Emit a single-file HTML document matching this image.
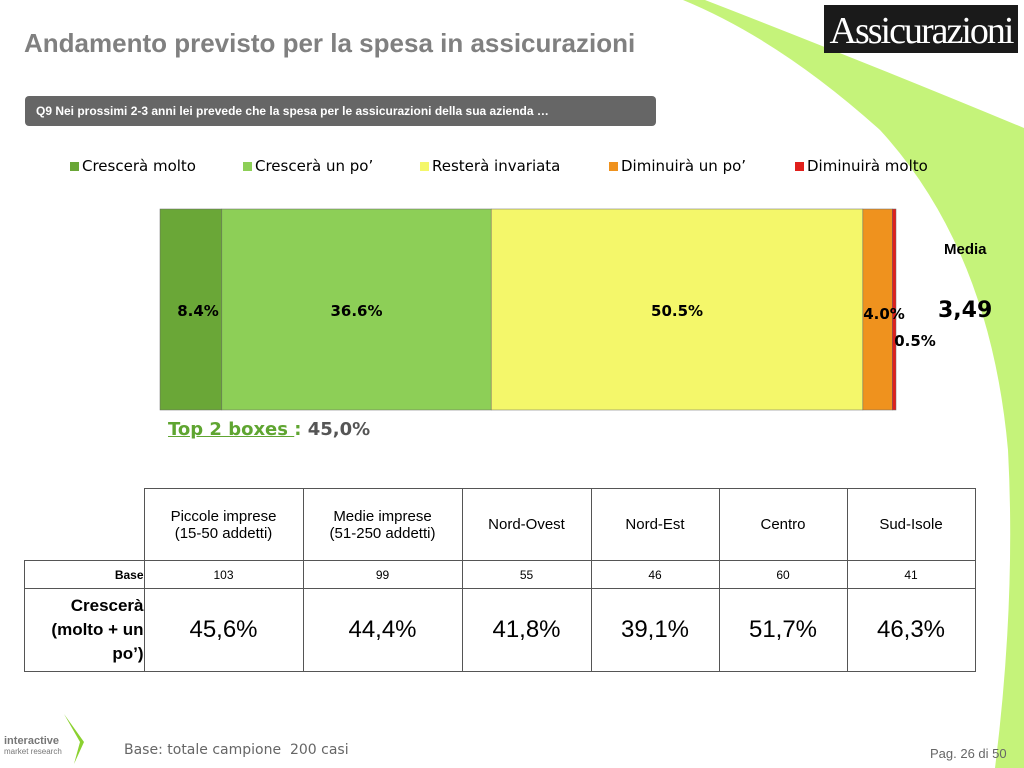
<!DOCTYPE html>
<html><head><meta charset="utf-8"><style>
body{margin:0;width:1024px;height:768px;background:#fff;position:relative;overflow:hidden;font-family:"Liberation Sans",sans-serif}
.a{position:absolute}
td{border:1px solid #555;text-align:center;font-size:15px;padding:0}
table{border-collapse:collapse;position:absolute;left:24px;top:488px}
.lab{position:absolute;font-family:"DejaVu Sans",sans-serif;font-weight:bold;font-size:15px;transform:translateX(-50%)}
</style></head><body>
<svg class="a" style="left:0;top:0" width="1024" height="768">
<path d="M683,0 L705,0 Q860,60 1024,128 L1024,768 L995,768 Q1016,600 1008,450 Q990,250 880,130 Q780,40 683,0 Z" fill="#c5f37a"/>
</svg>
<div class="a" style="left:24px;top:28px;font-size:26px;font-weight:bold;color:#808080">Andamento previsto per la spesa in assicurazioni</div>
<div class="a" style="left:824px;top:5px;width:194px;height:48px;background:#1a1a1a;color:#fff;font-family:'Liberation Serif',serif;font-size:38px;line-height:52px;text-align:center;letter-spacing:-2px">Assicurazioni</div>
<div class="a" style="left:25px;top:96px;width:631px;height:30px;background:#666;border-radius:4px;color:#fff;font-size:12px;font-weight:bold;line-height:30px;padding-left:11px;box-sizing:border-box">Q9 Nei prossimi 2-3 anni lei prevede che la spesa per le assicurazioni della sua azienda …</div>
<div id="legend" class="a" style="left:0;top:157px;font-family:'DejaVu Sans',sans-serif;font-size:15px"></div>
<svg id="chart" class="a" style="left:0;top:0" width="1024" height="480"></svg>
<div class="a" style="left:944px;top:241px;font-size:15px;font-weight:bold">Media</div>
<div class="a" style="left:938px;top:298px;font-size:22px;font-weight:bold;font-family:'DejaVu Sans',sans-serif">3,49</div>
<div class="a" style="left:168px;top:419px;font-size:18px;font-weight:bold;font-family:'DejaVu Sans',sans-serif;color:#555"><span style="color:#5fa531;text-decoration:underline">Top 2 boxes </span><span style="color:#5fa531">:</span> 45,0%</div>
<table>
<tr style="height:72px"><td style="border:none;border-right:1px solid #555;border-bottom:1px solid #555;width:119px"></td><td style="width:158px">Piccole imprese<br>(15-50 addetti)</td><td style="width:158px">Medie imprese<br>(51-250 addetti)</td><td style="width:128px">Nord-Ovest</td><td style="width:127px">Nord-Est</td><td style="width:127px">Centro</td><td style="width:127px">Sud-Isole</td></tr>
<tr style="height:28px;font-size:12px"><td style="text-align:right;font-weight:bold;font-size:12px">Base</td><td style="font-size:12px">103</td><td style="font-size:12px">99</td><td style="font-size:12px">55</td><td style="font-size:12px">46</td><td style="font-size:12px">60</td><td style="font-size:12px">41</td></tr>
<tr style="height:83px"><td style="text-align:right;font-weight:bold;font-size:17px;line-height:24px">Crescerà<br>(molto + un<br>po’)</td><td style="font-size:24px">45,6%</td><td style="font-size:24px">44,4%</td><td style="font-size:24px">41,8%</td><td style="font-size:24px">39,1%</td><td style="font-size:24px">51,7%</td><td style="font-size:24px">46,3%</td></tr>
</table>
<svg class="a" style="left:2px;top:712px" width="90" height="56"><polygon points="62,2 82,30 72,52 78,30" fill="#8bd130"/><text x="2" y="32" font-size="11" font-weight="bold" fill="#777" font-family="Liberation Sans">interactive</text><text x="2" y="42" font-size="8" fill="#777" font-family="Liberation Sans">market research</text></svg>
<div class="a" style="left:124px;top:742px;font-size:14px;color:#666;font-family:'DejaVu Sans',sans-serif">Base: totale campione&nbsp; 200 casi</div>
<div class="a" style="left:930px;top:746px;font-size:13px;color:#666">Pag. 26 di 50</div>
<script>
const categories=["Crescerà molto","Crescerà un po’","Resterà invariata","Diminuirà un po’","Diminuirà molto"];
const values=[8.4,36.6,50.5,4.0,0.5];
const colors=["#6aa737","#8dcf57","#f4f76a","#ef921e","#e0201c"];
const legendX=[70,243,420,609,795];
const svg=document.getElementById('chart');
const NS='http://www.w3.org/2000/svg';
const x0=160,W=736,y0=209,H=201;
const xs=v=>v/100*W;
let acc=0;
const lg=document.getElementById('legend');
values.forEach((v,i)=>{
 const r=document.createElementNS(NS,'rect');
 r.setAttribute('x',x0+xs(acc));r.setAttribute('y',y0);r.setAttribute('width',xs(v));r.setAttribute('height',H);
 r.setAttribute('fill',colors[i]);r.setAttribute('stroke','#666');r.setAttribute('stroke-width','0.5');
 
 
 svg.appendChild(r);
 const d=document.createElement('div');d.className='lab';
 let cx=x0+xs(acc+v/2),cy=302;
 if(i===0)cx=198;
 if(i===3){cx=884;cy=305;}
 if(i===4){cx=915;cy=332;}
 d.style.left=cx+'px';d.style.top=cy+'px';d.textContent=v.toFixed(1)+'%';
 
 
 document.body.appendChild(d);
 const e=document.createElement('span');e.style.position='absolute';e.style.left=legendX[i]+'px';e.style.whiteSpace='nowrap';
 e.innerHTML='<span style="display:inline-block;width:9px;height:9px;background:'+colors[i]+';margin-right:3px"></span>'+categories[i];
 
 
 lg.appendChild(e);
 acc+=v;
});
</script>
</body></html>
